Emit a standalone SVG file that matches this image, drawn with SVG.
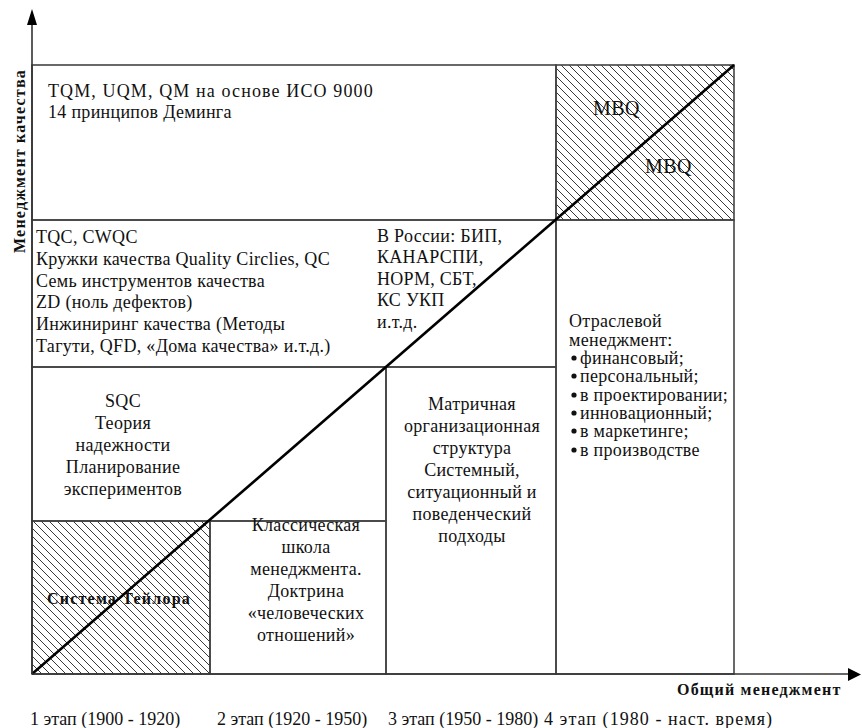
<svg xmlns="http://www.w3.org/2000/svg" width="862" height="728" viewBox="0 0 862 728">
<defs>
<pattern id="hatch" patternUnits="userSpaceOnUse" width="8" height="8">
<path d="M0,0 L8,8 M-4,4 L4,12 M4,-4 L12,4" stroke="#222" stroke-width="0.9" fill="none"/>
</pattern>
</defs>
<style>
.cell{fill:none;stroke:#444;stroke-width:1.6}
.hat{fill:url(#hatch);stroke:#444;stroke-width:1.6}
text{font-family:"Liberation Serif","Times New Roman",serif;font-size:18px;fill:#111;letter-spacing:0.3px}
.c{text-anchor:middle}
.b{font-weight:bold;font-size:16px;letter-spacing:1.2px}
.stage{letter-spacing:0px}
.axis{stroke:#333;stroke-width:1.6;fill:none}
.diag{stroke:#000;stroke-width:2.6;fill:none}
.ah{fill:#000}
</style>
<rect width="862" height="728" fill="#fff"/>

<g id="cell-tqm">
<rect class="cell" x="32" y="65" width="524" height="155"/>
<text x="48" y="97" textLength="325" lengthAdjust="spacing">TQM, UQM, QM на основе ИСО 9000</text>
<text x="48" y="118">14 принципов Деминга</text>
</g>

<g id="cell-mbq">
<rect class="hat" x="556" y="65" width="178" height="155"/>
<text x="593" y="115" style="font-size:20px;letter-spacing:0.5px">MBQ</text>
<text x="645" y="173" style="font-size:20px;letter-spacing:0.5px">MBQ</text>
</g>

<g id="cell-tqc">
<rect class="cell" x="32" y="220" width="524" height="147"/>
<text x="36" y="243">TQC, CWQC</text>
<text x="36" y="265">Кружки качества Quality Circlies, QC</text>
<text x="36" y="287">Семь инструментов качества</text>
<text x="36" y="308">ZD (ноль дефектов)</text>
<text x="36" y="330">Инжиниринг качества (Методы</text>
<text x="36" y="352">Тагути, QFD, «Дома качества» и.т.д.)</text>
</g>

<g id="cell-russia">
<text x="377" y="242">В России: БИП,</text>
<text x="377" y="263">КАНАРСПИ,</text>
<text x="377" y="285">НОРМ, СБТ,</text>
<text x="377" y="306">КС УКП</text>
<text x="377" y="328">и.т.д.</text>
</g>

<g id="cell-branch">
<rect class="cell" x="556" y="220" width="178" height="454"/>
<text x="569" y="327">Отраслевой</text>
<text x="569" y="346">менеджмент:</text>
<circle cx="574" cy="358" r="2.6" fill="#111"/>
<text x="580" y="364">финансовый;</text>
<circle cx="574" cy="376" r="2.6" fill="#111"/>
<text x="580" y="382">персональный;</text>
<circle cx="574" cy="395" r="2.6" fill="#111"/>
<text x="580" y="401">в проектировании;</text>
<circle cx="574" cy="413" r="2.6" fill="#111"/>
<text x="580" y="419">инновационный;</text>
<circle cx="574" cy="431" r="2.6" fill="#111"/>
<text x="580" y="437">в маркетинге;</text>
<circle cx="574" cy="450" r="2.6" fill="#111"/>
<text x="580" y="456">в производстве</text>
</g>

<g id="cell-sqc">
<rect class="cell" x="32" y="367" width="354" height="154"/>
<text class="c" x="123" y="407">SQC</text>
<text class="c" x="123" y="429">Теория</text>
<text class="c" x="123" y="451">надежности</text>
<text class="c" x="123" y="473">Планирование</text>
<text class="c" x="123" y="495">экспериментов</text>
</g>

<g id="cell-matrix">
<rect class="cell" x="386" y="367" width="170" height="307"/>
<text class="c" x="472" y="410">Матричная</text>
<text class="c" x="472" y="432">организационная</text>
<text class="c" x="472" y="454">структура</text>
<text class="c" x="472" y="476">Системный,</text>
<text class="c" x="472" y="498">ситуационный и</text>
<text class="c" x="472" y="520">поведенческий</text>
<text class="c" x="472" y="542">подходы</text>
</g>

<g id="cell-taylor">
<rect class="hat" x="32" y="521" width="178" height="153"/>
<text class="b c" x="119" y="604">Система Тейлора</text>
</g>

<g id="cell-classic">
<rect class="cell" x="210" y="521" width="176" height="153"/>
<text class="c" x="306" y="531">Классическая</text>
<text class="c" x="306" y="553">школа</text>
<text class="c" x="306" y="575">менеджмента.</text>
<text class="c" x="306" y="597">Доктрина</text>
<text class="c" x="306" y="619">«человеческих</text>
<text class="c" x="306" y="641">отношений»</text>
</g>

<g id="connectors">
<line class="diag" x1="32" y1="674" x2="734" y2="65"/>
<line class="axis" x1="32" y1="674" x2="32" y2="22"/>
<polygon class="ah" points="32,9 27,25 37,25"/>
<line class="axis" x1="32" y1="674" x2="850" y2="674"/>
<polygon class="ah" points="848,668 861,674.5 848,681"/>
</g>

<g id="axis-labels">
<text class="b" transform="translate(25,253) rotate(-90)">Менеджмент качества</text>
<text class="b" x="677" y="695">Общий менеджмент</text>
<text class="stage" x="30" y="725">1 этап (1900 - 1920)</text>
<text class="stage" x="217" y="725">2 этап (1920 - 1950)</text>
<text class="stage" x="388" y="725">3 этап (1950 - 1980)</text>
<text class="stage" x="544" y="725" textLength="228" lengthAdjust="spacing">4 этап (1980 - наст. время)</text>
</g>
</svg>
